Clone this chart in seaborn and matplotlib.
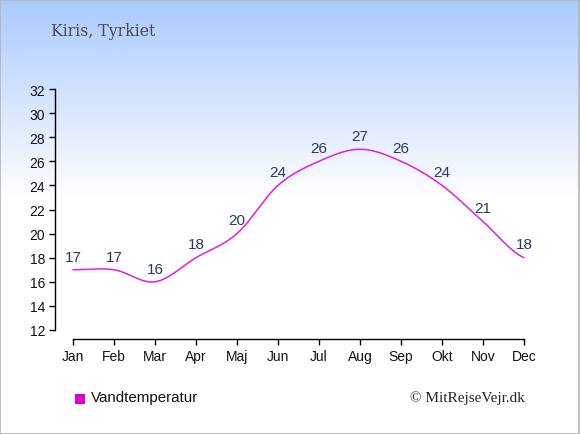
import numpy as np
import pandas as pd
import matplotlib
matplotlib.use("Agg")
import matplotlib.pyplot as plt
import seaborn as sns

months = ["Jan", "Feb", "Mar", "Apr", "Maj", "Jun", "Jul", "Aug", "Sep", "Okt", "Nov", "Dec"]
water_temp = [17, 17, 16, 18, 20, 24, 26, 27, 26, 24, 21, 18]
y_ticks = [12, 14, 16, 18, 20, 22, 24, 26, 28, 30, 32]
title = "Kiris, Tyrkiet"
legend_label = "Vandtemperatur"
credit = "\u00a9 MitRejseVejr.dk"

sns.set_style("white")
plt.rcParams['font.family'] = ['Liberation Sans', 'DejaVu Sans']

W, H = 580, 435
fig = plt.figure(figsize=(W / 100, H / 100), dpi=100)

# background gradient
bg = fig.add_axes([0, 0, 1, 1], zorder=-10)
grad_h = 200
t = np.clip(np.arange(H) / grad_h, 0, 1)[:, None]
top = np.array([170, 202, 255]) / 255.0
img = top[None, None, :] * (1 - t[..., None]) + np.ones(3)[None, None, :] * t[..., None]
img = np.repeat(img, 2, axis=1)
bg.imshow(img, aspect="auto", extent=[0, 1, 0, 1], origin="upper")
bg.set_axis_off()
bg.add_patch(plt.Rectangle((0.0008, 0.001), 0.9975, 0.997, fill=False, edgecolor="#b4b4b4", lw=1.2,
                           transform=bg.transAxes))
bg.set_xlim(0, 1)
bg.set_ylim(0, 1)

# axes placement
px_per_month = (524 - 73) / 11
px_per_unit = (331 - 90) / 20
left_px, right_px = 55, 542
top_px, bottom_px = 90, 340
ax = fig.add_axes([left_px / W, 1 - bottom_px / H, (right_px - left_px) / W, (bottom_px - top_px) / H])
ax.patch.set_alpha(0)
ax.set_xlim(-(73 - left_px) / px_per_month, 11 + (right_px - 524) / px_per_month)
ax.set_ylim(12 - (bottom_px - 331) / px_per_unit, 32)

# smooth curve (Catmull-Rom) for drawing
x = np.arange(len(months), dtype=float)
y = np.array(water_temp, dtype=float)
P = np.concatenate([[y[0]], y, [y[-1]]])
X = np.concatenate([[x[0] - 1], x, [x[-1] + 1]])
xs, ys = [], []
for i in range(1, len(P) - 2):
    s = np.linspace(0, 1, 30, endpoint=(i == len(P) - 3))
    p0, p1, p2, p3 = P[i - 1], P[i], P[i + 1], P[i + 2]
    q0, q1, q2, q3 = X[i - 1], X[i], X[i + 1], X[i + 2]
    f = lambda a0, a1, a2, a3: 0.5 * ((2 * a1) + (-a0 + a2) * s + (2 * a0 - 5 * a1 + 4 * a2 - a3) * s ** 2
                                      + (-a0 + 3 * a1 - 3 * a2 + a3) * s ** 3)
    xs.append(f(q0, q1, q2, q3))
    ys.append(f(p0, p1, p2, p3))
curve = pd.DataFrame({"x": np.concatenate(xs), "y": np.concatenate(ys)})
sns.lineplot(data=curve, x="x", y="y", ax=ax, color="#e31ee0", lw=1.1, sort=False, legend=False)

for xi, yi in zip(x, water_temp):
    ax.annotate(str(yi), (xi, yi), xytext=(0, 4.5), textcoords="offset points", ha="center", va="bottom",
                fontsize=11, color="#2a3a5c")

ax.set_xticks(x)
ax.set_xticklabels(months)
ax.set_yticks(y_ticks)
ax.set_xlabel("")
ax.set_ylabel("")
for s in ["top", "right"]:
    ax.spines[s].set_visible(False)
ax.spines["left"].set_bounds(12, 32)
ax.spines["bottom"].set_bounds(0, 11)
for s in ["left", "bottom"]:
    ax.spines[s].set_color("black")
    ax.spines[s].set_linewidth(1.0)
ax.tick_params(axis="both", direction="out", length=4, width=1, color="black", labelsize=10,
               labelcolor="#111111", left=True, bottom=True, pad=3)

fig.text(51 / W, 1 - 32 / H, title, family="DejaVu Serif", fontsize=11.3, color="#4a4a4a",
         ha="left", va="center")

# legend
fig.patches.append(plt.Rectangle((75 / W, 1 - 405 / H), 10 / W, 10 / H, transform=fig.transFigure,
                                 facecolor="#dd00cc", edgecolor="none"))
fig.text(91 / W, 1 - 398 / H, legend_label, fontsize=10.9, color="#111111", ha="left", va="center")
fig.text(525 / W, 1 - 398 / H, credit, family="Liberation Serif", fontsize=11, color="#222222",
         ha="right", va="center")

fig.savefig("out.png", dpi=100)
